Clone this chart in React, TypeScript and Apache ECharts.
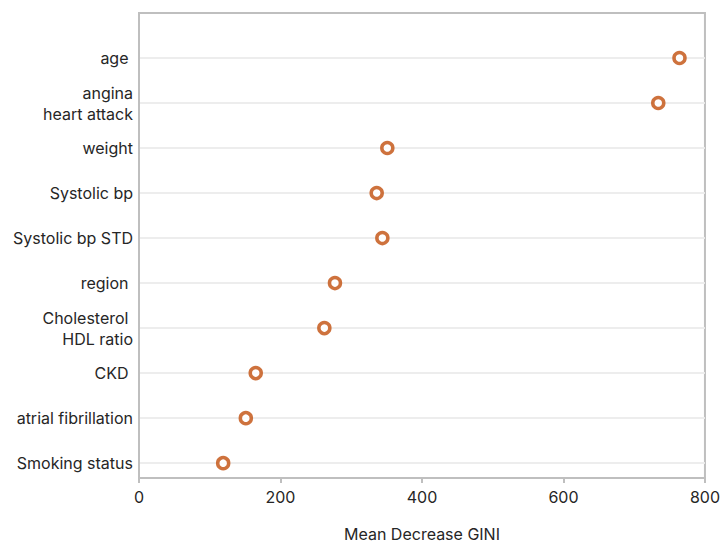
import React, { useEffect, useRef } from "react";
import * as echarts from "echarts";

const featureLabels = [
  "Smoking status",
  "atrial fibrillation",
  "CKD ",
  "Cholesterol \nHDL ratio",
  "region ",
  "Systolic bp STD",
  "Systolic bp",
  "weight",
  "angina\nheart attack",
  "age ",
];
const positions = [1, 2, 3, 4, 5, 6, 7, 8, 9, 10];
const giniValues = [119, 151, 165, 262, 277, 344, 336, 351, 734, 764];
const xTicks = [0, 200, 400, 600, 800];

const FONT = "Inter, 'Open Sans', sans-serif";
const TEXT = "#262626";
const AXIS = "#bfbfbf";
const MARK = "#c24f0c";

export default function App() {
  const ref = useRef<HTMLDivElement>(null);
  useEffect(() => {
    if (!ref.current) return;
    const chart = echarts.init(ref.current, undefined, { renderer: "svg" });
    chart.setOption({
      animation: false,
      backgroundColor: "#ffffff",
      grid: {
        left: 139,
        right: 18,
        top: 13,
        bottom: 69,
        show: true,
        borderColor: AXIS,
        borderWidth: 2,
        backgroundColor: "transparent",
      },
      xAxis: {
        type: "value",
        min: xTicks[0],
        max: xTicks[xTicks.length - 1],
        interval: 200,
        name: "Mean Decrease GINI",
        nameLocation: "middle",
        nameGap: 48,
        nameTextStyle: { color: TEXT, fontSize: 16, fontFamily: FONT },
        axisLine: { show: true, lineStyle: { color: AXIS, width: 2 } },
        axisTick: { show: true, length: 5, lineStyle: { color: AXIS, width: 2 } },
        axisLabel: { color: TEXT, fontSize: 16, fontFamily: FONT, margin: 11 },
        splitLine: { show: false },
      },
      yAxis: {
        type: "value",
        min: 0.67,
        max: 11,
        axisLine: { show: true, lineStyle: { color: AXIS, width: 2 } },
        axisTick: { show: false, customValues: positions },
        axisLabel: {
          customValues: positions,
          color: TEXT,
          fontSize: 16,
          fontFamily: FONT,
          margin: 6,
          lineHeight: 21,
          align: "right",
          formatter: (v: number) => featureLabels[Math.round(v) - 1] ?? "",
        },
        splitLine: { show: true, lineStyle: { color: "#ededed", width: 2 } },
      },
      series: [
        {
          type: "scatter",
          data: giniValues.map((v, i) => [v, positions[i]]),
          symbol: "circle",
          symbolSize: 11,
          itemStyle: { color: "#ffffff", borderColor: MARK, borderWidth: 3.5 },
        },
      ],
    });
    return () => chart.dispose();
  }, []);
  return (
    <div
      ref={ref}
      style={{ position: "fixed", left: 0, top: 0, width: 723, height: 547, background: "#fff" }}
    />
  );
}
